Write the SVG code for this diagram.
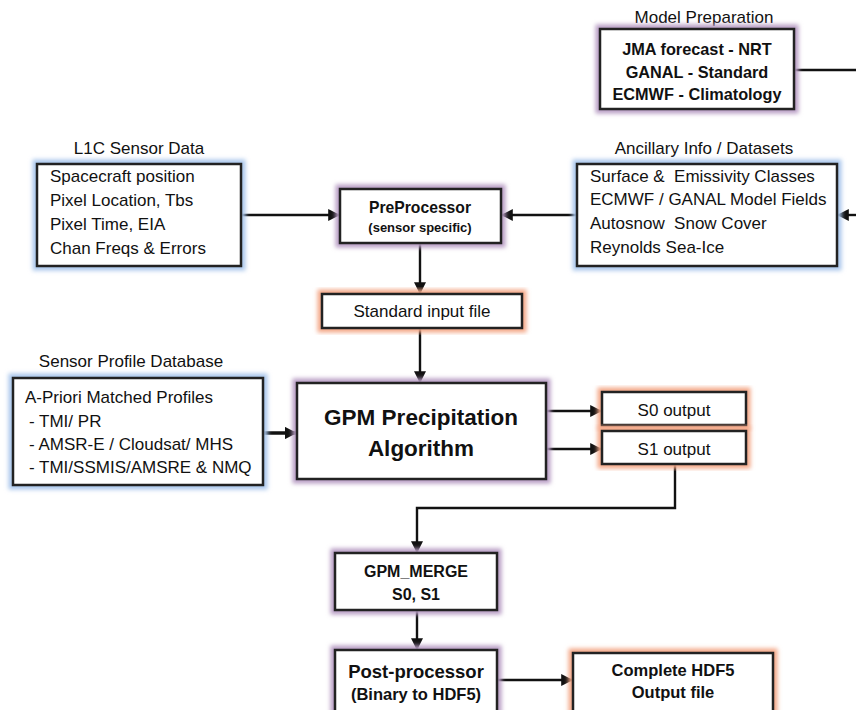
<svg xmlns="http://www.w3.org/2000/svg" width="856" height="710" viewBox="0 0 856 710">
<style>
text{font-family:"Liberation Sans",Arial,sans-serif;fill:#111}
.n{font-size:17px}
.b{font-weight:bold}
.c{text-anchor:middle}
.pre{white-space:pre}
.box{fill:#fff;stroke:#222;stroke-width:2.5}
.gp{fill:none;stroke:#b89cc4;stroke-width:9;filter:url(#blur)}
.gb{fill:none;stroke:#a9c6ec;stroke-width:9;filter:url(#blur)}
.go{fill:none;stroke:#f4a888;stroke-width:9;filter:url(#blur)}
.ln{fill:none;stroke:#111;stroke-width:2.4}
</style>
<defs>
<filter id="blur" x="-20%" y="-20%" width="140%" height="140%"><feGaussianBlur stdDeviation="2"/></filter>
<marker id="ah" viewBox="0 0 10 10" refX="9" refY="5" markerWidth="5" markerHeight="5" orient="auto" markerUnits="strokeWidth"><path d="M0,0 L10,5 L0,10 z" fill="#111"/></marker>
<marker id="ah2" viewBox="0 0 10 10" refX="9" refY="5" markerWidth="3.4" markerHeight="3.4" orient="auto" markerUnits="strokeWidth"><path d="M0,0 L10,5 L0,10 z" fill="#111"/></marker>
</defs>

<g id="connectors">
<path class="ln" d="M794,70 H856"/>
<path class="ln" d="M856,215 H838" marker-end="url(#ah)"/>
<path class="ln" d="M241,215 H339" marker-end="url(#ah)"/>
<path class="ln" d="M576,215 H502" marker-end="url(#ah)"/>
<path class="ln" d="M420,243 V293" marker-end="url(#ah)"/>
<path class="ln" d="M420,328 V382" marker-end="url(#ah)"/>
<path class="ln" style="stroke-width:3.6" d="M263,433 H296" marker-end="url(#ah2)"/>
<path class="ln" d="M546,411 H601" marker-end="url(#ah)"/>
<path class="ln" d="M546,449 H601" marker-end="url(#ah)"/>
<path class="ln" d="M675,464 V508 H417 V552" marker-end="url(#ah)"/>
<path class="ln" d="M417,610 V649" marker-end="url(#ah)"/>
<path class="ln" d="M497,680 H572" marker-end="url(#ah)"/>
</g>

<g id="model-prep">
<text class="n c" x="704" y="23">Model Preparation</text>
<rect class="gp" x="600" y="29" width="194" height="80"/>
<rect class="box" x="600" y="29" width="194" height="80"/>
<text class="b c" style="font-size:16.3px" x="697" y="55">JMA forecast - NRT</text>
<text class="b c" style="font-size:16.3px" x="697" y="78">GANAL - Standard</text>
<text class="b c" style="font-size:16.3px" x="697" y="100">ECMWF - Climatology</text>
</g>

<g id="l1c">
<text class="n c" x="139" y="154">L1C Sensor Data</text>
<rect class="gb" x="37" y="164" width="204" height="102"/>
<rect class="box" x="37" y="164" width="204" height="102"/>
<text class="n" x="50" y="182">Spacecraft position</text>
<text class="n" x="50" y="206">Pixel Location, Tbs</text>
<text class="n" x="50" y="230">Pixel Time, EIA</text>
<text class="n" x="50" y="254">Chan Freqs &amp; Errors</text>
</g>

<g id="preprocessor">
<rect class="gp" x="340" y="189" width="161" height="54"/>
<rect class="box" x="340" y="189" width="161" height="54"/>
<text class="b c" style="font-size:15.7px" x="420" y="213">PreProcessor</text>
<text class="b c" style="font-size:13px" x="420" y="232">(sensor specific)</text>
</g>

<g id="ancillary">
<text class="n c" x="704" y="154">Ancillary Info / Datasets</text>
<rect class="gb" x="577" y="164" width="260" height="102"/>
<rect class="box" x="577" y="164" width="260" height="102"/>
<text class="n pre" x="590" y="182">Surface &amp;  Emissivity Classes</text>
<text class="n" x="590" y="205">ECMWF / GANAL Model Fields</text>
<text class="n pre" x="590" y="229">Autosnow  Snow Cover</text>
<text class="n" x="590" y="253">Reynolds Sea-Ice</text>
</g>

<g id="standard-input">
<rect class="go" x="322" y="294" width="200" height="34"/>
<rect class="box" x="322" y="294" width="200" height="34"/>
<text class="n c" x="422" y="317">Standard input file</text>
</g>

<g id="profile-db">
<text class="n c" x="131" y="367">Sensor Profile Database</text>
<rect class="gb" x="13" y="378" width="250" height="107"/>
<rect class="box" x="13" y="378" width="250" height="107"/>
<text class="n" x="25" y="403">A-Priori Matched Profiles</text>
<text class="n" x="29" y="427">- TMI/ PR</text>
<text class="n" x="29" y="450">- AMSR-E / Cloudsat/ MHS</text>
<text class="n" x="29" y="473">- TMI/SSMIS/AMSRE &amp; NMQ</text>
</g>

<g id="gpm-algorithm">
<rect class="gp" x="297" y="383" width="249" height="96"/>
<rect class="box" x="297" y="383" width="249" height="96"/>
<text class="b c" style="font-size:22.5px" x="421" y="425">GPM Precipitation</text>
<text class="b c" style="font-size:22.5px" x="421" y="456">Algorithm</text>
</g>

<g id="s0-output">
<rect class="go" x="602" y="392" width="144" height="33"/>
<rect class="box" x="602" y="392" width="144" height="33"/>
<text class="n c" x="674" y="416">S0 output</text>
</g>

<g id="s1-output">
<rect class="go" x="602" y="431" width="144" height="33"/>
<rect class="box" x="602" y="431" width="144" height="33"/>
<text class="n c" x="674" y="455">S1 output</text>
</g>

<g id="gpm-merge">
<rect class="gp" x="335" y="553" width="162" height="57"/>
<rect class="box" x="335" y="553" width="162" height="57"/>
<text class="b c" style="font-size:16px" x="416" y="577">GPM_MERGE</text>
<text class="b c" style="font-size:16px" x="416" y="600">S0, S1</text>
</g>

<g id="post-processor">
<rect class="gp" x="335" y="650" width="162" height="70"/>
<rect class="box" x="335" y="650" width="162" height="70"/>
<text class="b c" style="font-size:18.5px" x="416" y="678">Post-processor</text>
<text class="b c" style="font-size:16.5px" x="416" y="700">(Binary to HDF5)</text>
</g>

<g id="hdf5-output">
<rect class="go" x="573" y="653" width="200" height="67"/>
<rect class="box" x="573" y="653" width="200" height="67"/>
<text class="b c" style="font-size:16.5px" x="673" y="676">Complete HDF5</text>
<text class="b c" style="font-size:16.5px" x="673" y="698">Output file</text>
</g>
</svg>
